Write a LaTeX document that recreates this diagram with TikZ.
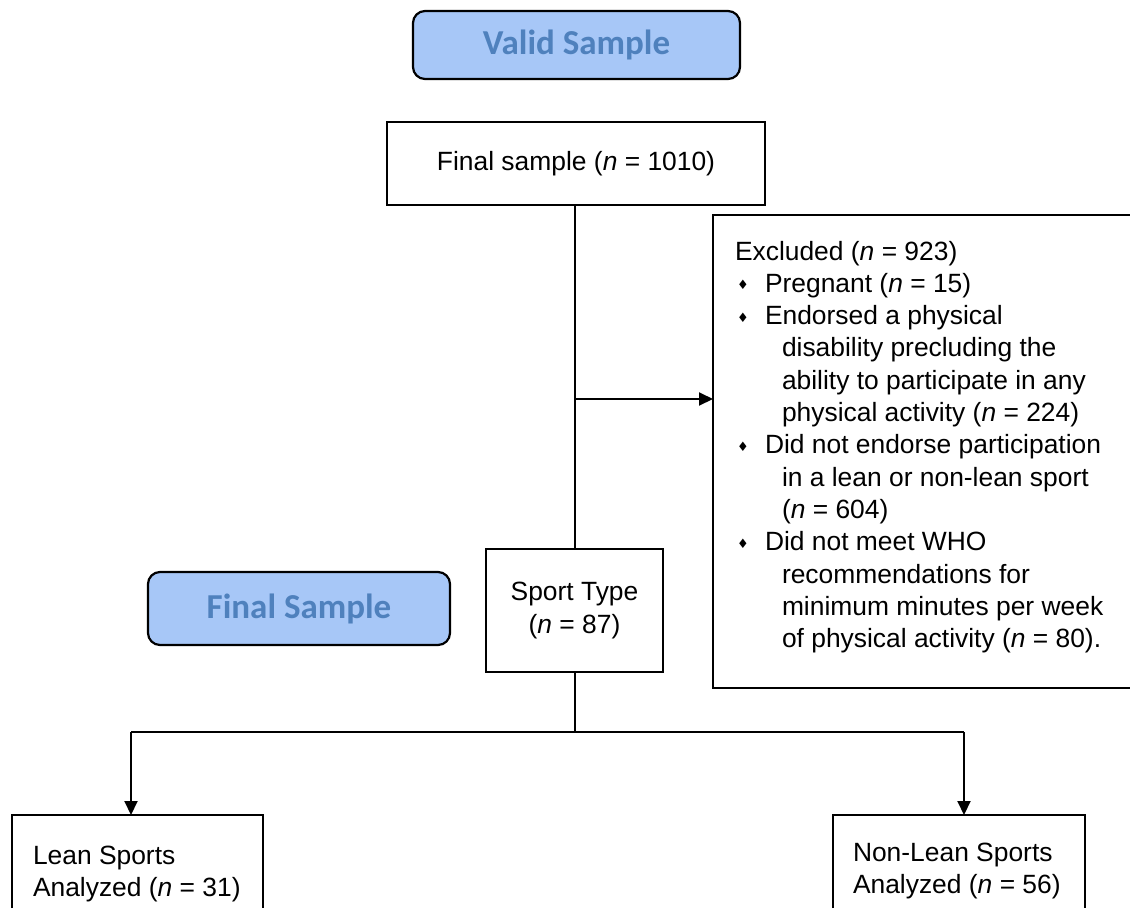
\documentclass[tikz,border=0pt]{standalone}
\usepackage{fontspec}
\setmainfont{Liberation Sans}
\newfontfamily\calib{Carlito}
\newfontfamily\djv{DejaVu Sans}
\usetikzlibrary{arrows.meta}
\definecolor{boxblue}{RGB}{167,199,247}
\definecolor{txtblue}{RGB}{79,129,189}
\newcommand{\bul}{\makebox[30pt][l]{\hspace*{2pt}\raisebox{2.5pt}{\djv\fontsize{13}{13}\selectfont ♦}}}
\newcommand{\nn}{\textit{n}}
\begin{document}
\begin{tikzpicture}[x=1pt,y=-1pt,
  every node/.style={inner sep=0pt, outer sep=0pt, font=\fontsize{26.4}{32.3}\selectfont},
  plainbox/.style={draw, line width=2pt, rectangle, align=center},
  ghost/.style={draw=none, rectangle},
  rbox/.style={draw, line width=2.2pt, rounded corners=12pt, fill=boxblue, text=txtblue, font=\calib\bfseries\fontsize{35}{40}\selectfont},
  side/.style={line width=2pt},
  conn/.style={line width=2pt},
  arr/.style={line width=2pt, -{Triangle[length=14pt,width=13pt]}}
]
\useasboundingbox (0,0) rectangle (1130,908);

% header boxes
\node[rbox, minimum width=327pt, minimum height=68pt] (valid) at (576.5,45) {Valid Sample};
\node[rbox, minimum width=302pt, minimum height=73pt] (finalS) at (299,608.5) {Final Sample};

% final sample
\node[plainbox, minimum width=378pt, minimum height=83pt] (final) at (576,163.5) {Final sample (\nn{} = 1010)};

% sport type
\node[plainbox, minimum width=177pt, minimum height=123pt] (sport) at (574.5,610.5) {Sport Type\\(\nn{} = 87)};

% excluded box (clipped at right edge)
\coordinate (rx) at (1130,0);
\node[ghost, anchor=north west, minimum width=417pt, minimum height=473pt] (excl) at (713,215) {};
\draw[side] (excl.north west -| rx) -- (excl.north west) -- (excl.south west) -- (excl.south west -| rx);
\node[anchor=base west] (excltxt) at (735,260) {\parbox[t]{390pt}{\raggedright\fontsize{26.4}{32.3}\selectfont
Excluded (\nn{} = 923)\\
\bul Pregnant (\nn{} = 15)\\
\bul Endorsed a physical\\
\hspace*{47pt}disability precluding the\\
\hspace*{47pt}ability to participate in any\\
\hspace*{47pt}physical activity (\nn{} = 224)\\
\bul Did not endorse participation\\
\hspace*{47pt}in a lean or non-lean sport\\
\hspace*{47pt}(\nn{} = 604)\\
\bul Did not meet WHO\\
\hspace*{47pt}recommendations for\\
\hspace*{47pt}minimum minutes per week\\
\hspace*{47pt}of physical activity (\nn{} = 80).}};

% bottom boxes (clipped at bottom)
\node[ghost, anchor=north west, minimum width=251pt, minimum height=93pt] (lean) at (12,815) {};
\draw[side] (lean.south west) -- (lean.north west) -- (lean.north east) -- (lean.south east);
\node[anchor=base west] (leantxt) at (33,864) {\parbox[t]{228pt}{\fontsize{26.4}{32.3}\selectfont Lean Sports\\Analyzed (\nn{} = 31)}};

\node[ghost, anchor=north west, minimum width=252pt, minimum height=93pt] (nonlean) at (833,815) {};
\draw[side] (nonlean.south west) -- (nonlean.north west) -- (nonlean.north east) -- (nonlean.south east);
\node[anchor=base west] (nonleantxt) at (853,861) {\parbox[t]{228pt}{\fontsize{26.4}{32.3}\selectfont Non-Lean Sports\\Analyzed (\nn{} = 56)}};

% connectors
\coordinate (j1) at (575,399);
\coordinate (j2) at (575,732);
\coordinate (la) at (131,732);
\coordinate (ra) at (964,732);
\draw[conn] (final.south -| j1) -- (sport.north -| j1);
\draw[arr] (j1) -- (j1 -| excl.west);
\draw[conn] (sport.south -| j2) -- (j2);
\draw[conn] (la) -- (ra);
\draw[arr] (la) -- (la |- lean.north);
\draw[arr] (ra) -- (ra |- nonlean.north);
\end{tikzpicture}
\end{document}
